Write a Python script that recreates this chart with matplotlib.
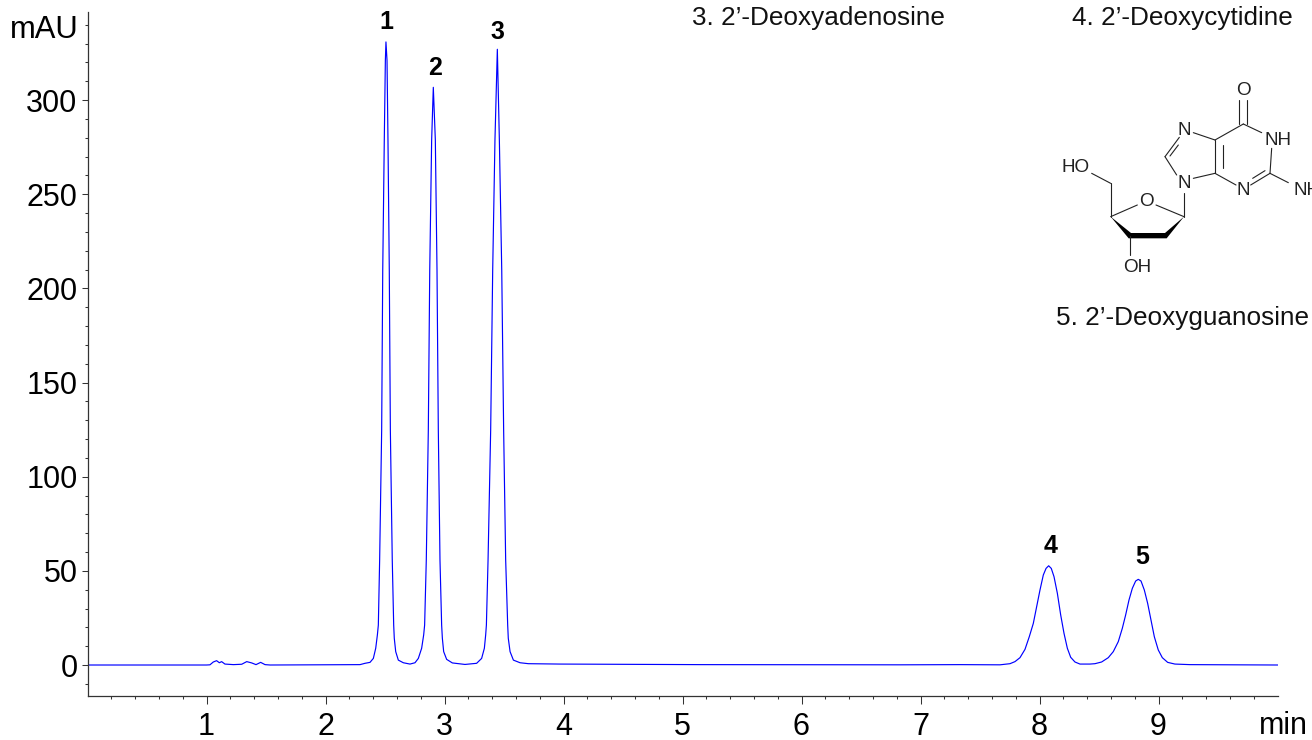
import numpy as np
import matplotlib
matplotlib.use('Agg')
import matplotlib.pyplot as plt
from matplotlib.patches import Polygon

plt.rcParams['font.family'] = ['Liberation Sans', 'DejaVu Sans']

# Chromatogram
time_min = [0.00, 1.00, 1.029, 1.057, 1.085, 1.108, 1.127, 1.155, 1.226, 1.296, 1.338, 1.380,
            1.416, 1.455, 1.492, 1.534, 2.00, 2.29, 2.332, 2.374,
            2.402, 2.422, 2.436, 2.444, 2.455, 2.472, 2.481, 2.494, 2.503, 2.508, 2.517, 2.525, 2.536,
            2.545, 2.561, 2.573, 2.578, 2.590, 2.612, 2.654, 2.710, 2.752,
            2.780, 2.808, 2.825, 2.833, 2.847, 2.864, 2.876, 2.892, 2.906, 2.923, 2.937,
            2.948, 2.962, 2.976, 2.982, 2.993, 3.018, 3.066, 3.172, 3.270,
            3.312, 3.335, 3.346, 3.352, 3.366, 3.388, 3.405, 3.424, 3.444, 3.461, 3.481,
            3.497, 3.514, 3.531, 3.536, 3.551, 3.579, 3.635, 3.705, 3.97, 5.15, 6.83, 7.33, 7.668,
            7.752, 7.794, 7.836, 7.878, 7.914, 7.948, 7.976, 8.004, 8.032, 8.055, 8.077,
            8.099, 8.122, 8.150, 8.178, 8.206, 8.234, 8.262, 8.298, 8.340, 8.424,
            8.466, 8.522, 8.578, 8.620, 8.662, 8.696, 8.724, 8.752, 8.780, 8.808, 8.830,
            8.853, 8.881, 8.909, 8.937, 8.965, 8.998, 9.032, 9.077, 9.138, 9.264, 10.00]
signal_mau = [0.0, 0.0, 0.1, 1.6, 2.3, 1.2, 1.8, 0.5, 0.2, 0.4, 1.8, 1.1,
              0.2, 1.4, 0.2, 0.0, 0.1, 0.2, 0.9, 1.4,
              3.5, 8.9, 16.0, 21.2, 55.8, 124.8, 209.8, 278.8, 321.0, 330.9, 321.0, 278.8, 209.8,
              124.8, 55.8, 21.2, 14.2, 7.1, 2.6, 1.2, 0.5, 1.2,
              3.5, 8.9, 16.0, 21.2, 55.8, 124.8, 209.8, 278.8, 306.8, 278.8, 209.8,
              124.8, 55.8, 21.2, 14.2, 7.1, 3.0, 1.1, 0.3, 0.9,
              3.5, 8.9, 16.0, 21.2, 55.8, 124.8, 209.8, 278.8, 327.0, 278.8, 209.8,
              124.8, 55.8, 21.2, 14.2, 7.1, 2.6, 1.2, 0.7, 0.5, 0.2, 0.1, 0.2, 0.1,
              0.7, 1.8, 3.9, 8.3, 15.0, 22.1, 31.0, 39.8, 47.8, 51.3, 52.7,
              51.3, 46.9, 38.1, 26.6, 16.8, 8.9, 4.1, 1.6, 0.5, 0.5,
              0.7, 1.6, 3.9, 7.1, 12.4, 19.5, 26.6, 34.5, 40.7, 44.6, 45.5,
              44.6, 39.8, 32.7, 23.9, 15.0, 8.0, 3.9, 1.4, 0.5, 0.2, 0.0]

peak_labels = ['1', '2', '3', '4', '5']
peak_label_x = [2.508, 2.92, 3.441, 8.097, 8.861]
peak_label_y = [341.5, 317.0, 336.0, 63.2, 57.4]

x_ticks = [1, 2, 3, 4, 5, 6, 7, 8, 9]
x_minor = [t / 5 for t in range(1, 50) if t % 5 != 0]
y_ticks = [0, 50, 100, 150, 200, 250, 300]
y_minor = [v for v in range(-10, 350, 10) if v % 50 != 0]

W, H = 1312, 740
INK = '#333333'

fig = plt.figure(figsize=(W / 100, H / 100), dpi=100, facecolor='white')
ax = fig.add_axes([87.5 / W, 1 - 696 / H, 1190 / W, 684 / H])
ax.plot(time_min, signal_mau, color='#0000ff', lw=0.85)
ax.set_xlim(0, 10)
ax.set_ylim(-16.46, 346.8)

for s in ['top', 'right']:
    ax.spines[s].set_visible(False)
for s in ['left', 'bottom']:
    ax.spines[s].set_color(INK)
    ax.spines[s].set_linewidth(0.9)

ax.set_xticks(x_ticks)
ax.set_xticks(x_minor, minor=True)
ax.set_yticks(y_ticks)
ax.set_yticks(y_minor, minor=True)
ax.tick_params(axis='x', which='major', length=5.8, width=0.75, color=INK, labelsize=22, pad=5.5, labelcolor='black')
ax.tick_params(axis='x', which='minor', length=2.5, width=0.75, color=INK)
ax.tick_params(axis='y', which='major', length=4.3, width=0.75, color=INK, labelsize=22, pad=2.9, labelcolor='black')
ax.tick_params(axis='y', which='minor', length=2.2, width=0.75, color=INK)

for lab, x, y in zip(peak_labels, peak_label_x, peak_label_y):
    ax.text(x, y, lab, fontsize=18, fontweight='bold', ha='center', va='center', color='black')

# overlay in pixel units for the captions and the structure
ov = fig.add_axes([0, 0, 1, 1])
ov.set_xlim(0, W)
ov.set_ylim(H, 0)
ov.axis('off')
ov.patch.set_alpha(0)

ov.text(79, 38.3, 'mAU', fontsize=22.3, ha='right', va='baseline')
ov.text(1259, 733.5, 'min', fontsize=22, ha='left', va='baseline')
ov.text(692, 25, '3. 2\u2019-Deoxyadenosine', fontsize=18.8, ha='left', va='baseline', color='#111111')
ov.text(1072, 25, '4. 2\u2019-Deoxycytidine', fontsize=18.8, ha='left', va='baseline', color='#111111')
ov.text(1056.5, 325, '5. 2\u2019-Deoxyguanosine', fontsize=18.8, ha='left', va='baseline', color='#111111')


# 2'-deoxyguanosine, coordinates taken from the 3x crop at (1030, 0)
def sx(z):
    return 1030 + z / 3


def sy(z):
    return z / 3


bonds = [
    (628, 300, 628, 372), (650, 300, 650, 372),
    (640, 372, 695, 398), (555, 420, 640, 372),
    (725, 445, 720, 520), (720, 520, 662, 555), (705, 512, 668, 535),
    (720, 520, 775, 548),
    (555, 420, 555, 520), (578, 435, 578, 505), (555, 520, 618, 555),
    (555, 420, 490, 398), (448, 412, 405, 470), (445, 435, 420, 468),
    (405, 470, 440, 525), (490, 535, 555, 520),
    (462, 578, 462, 650),
    (462, 650, 378, 615), (322, 615, 242, 650),
    (242, 650, 242, 550), (242, 550, 185, 520),
    (300, 708, 300, 765),
]
for x0, y0, x1, y1 in bonds:
    ov.plot([sx(x0), sx(x1)], [sy(y0), sy(y1)], color='#222222', lw=0.8, solid_capstyle='round')

ring_back = [(242, 650), (296, 715), (410, 715), (462, 650), (405, 699), (303, 699)]
ov.add_patch(Polygon([(sx(a), sy(b)) for a, b in ring_back], closed=True, facecolor='black', edgecolor='none'))

atoms = [
    ('O', 640, 272, 'center'), ('NH', 745, 422, 'center'), ('N', 462, 392, 'center'),
    ('N', 462, 550, 'center'), ('N', 640, 572, 'center'), ('NH', 790, 572, 'left'),
    ('HO', 138, 503, 'center'), ('O', 350, 605, 'center'), ('OH', 323, 803, 'center'),
]
for lab, x, y, ha in atoms:
    ov.text(sx(x), sy(y), lab, fontsize=13.6, ha=ha, va='center', color='#222222')

fig.savefig('out.png', dpi=100)
